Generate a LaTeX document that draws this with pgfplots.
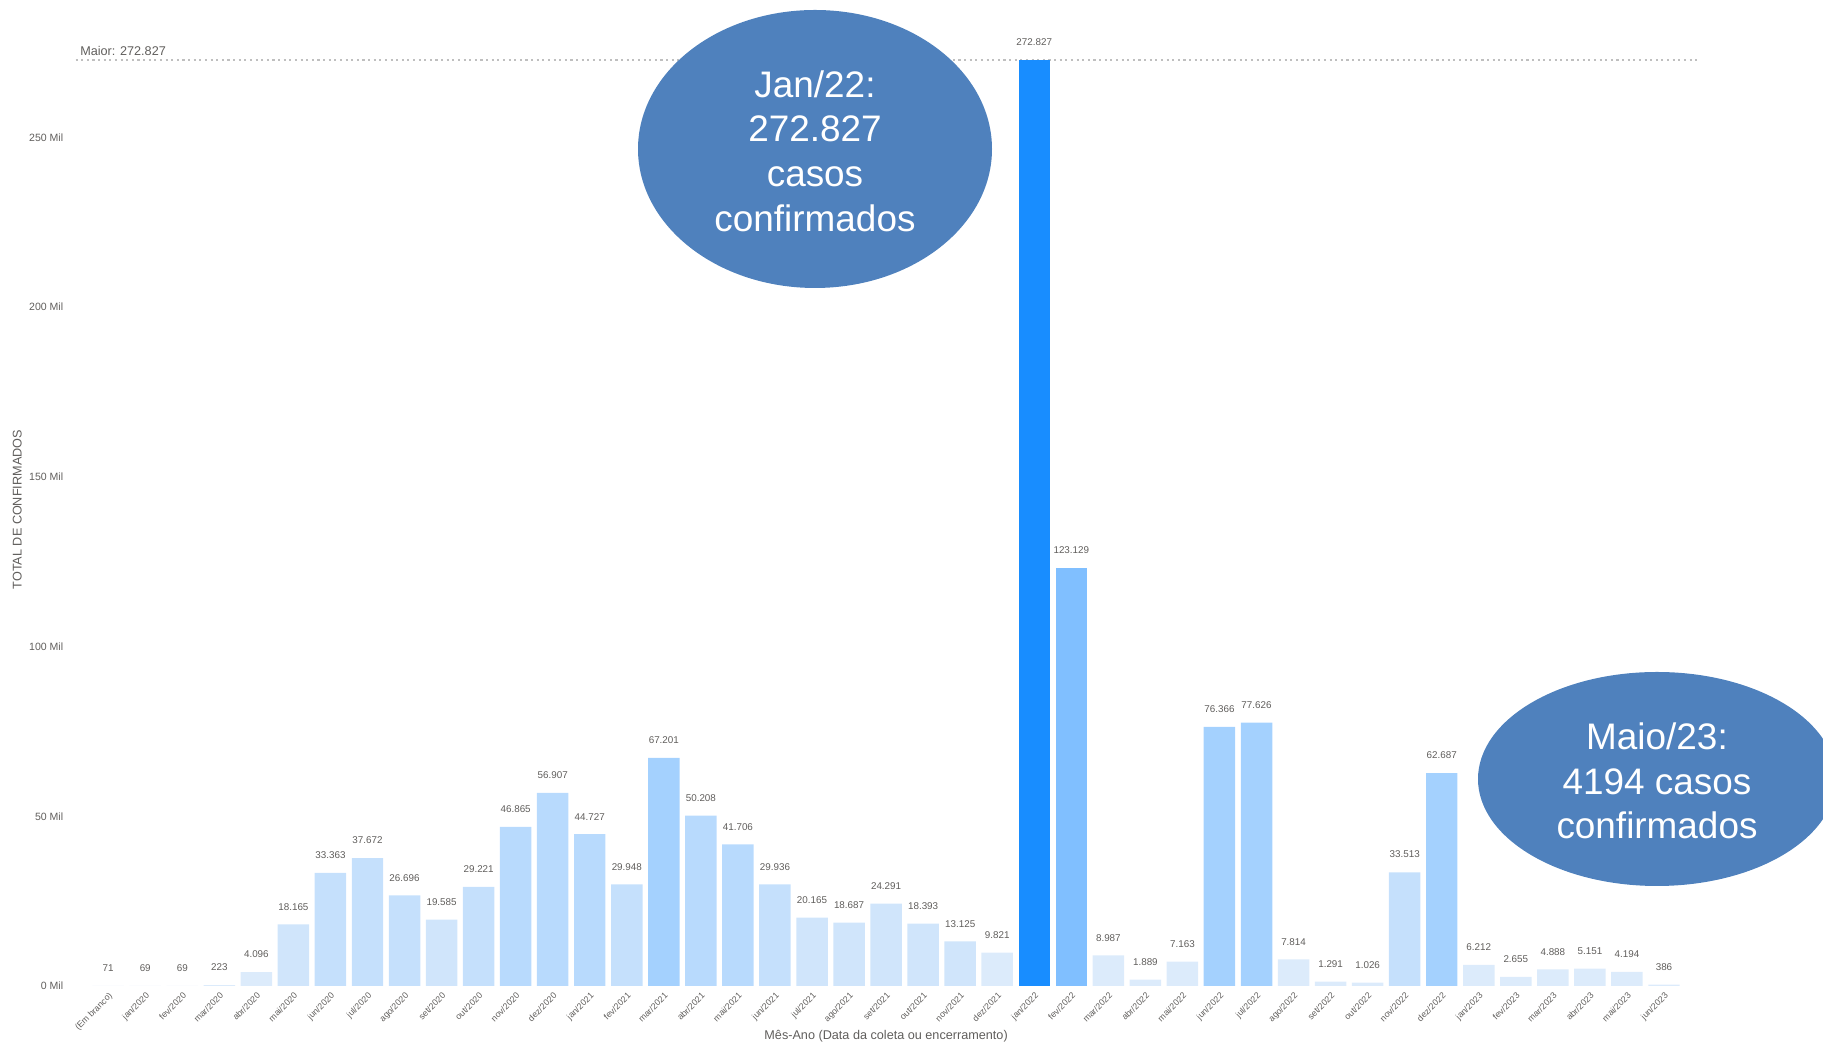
\documentclass[border=0pt]{standalone}
\usepackage{pgfplots}
\pgfplotsset{compat=1.18}
\usepackage{fontspec}
\setmainfont{Liberation Sans}

\definecolor{txt}{HTML}{605E5C}
\definecolor{bubble}{RGB}{79,129,189}
\definecolor{b1}{RGB}{220,235,251}
\definecolor{b2}{RGB}{208,229,251}
\definecolor{b3}{RGB}{197,224,252}
\definecolor{b4}{RGB}{184,218,253}
\definecolor{b5}{RGB}{164,209,254}
\definecolor{b6}{RGB}{128,191,255}
\definecolor{b7}{RGB}{24,141,255}

\pgfplotsset{
  vals/.style={fill=#1, draw=none, bar shift=0pt, nodes near coords,
    every node near coord/.append style={font=\fontsize{2.8}{3.3}\selectfont, text=txt, yshift=0.5pt}},
}

\begin{document}
\begin{tikzpicture}
\begin{axis}[
  at={(7.56mm,5.9mm)}, anchor=south west,
  scale only axis, width=162.1mm, height=93.4mm,
  ybar, bar width=0.85,
  xmin=-0.88, xmax=42.88, ymin=0, ymax=275200,
  enlargelimits=false, clip=false,
  scaled y ticks=false,
  axis line style={draw=none},
  major tick length=0pt,
  xtick={0,...,42},
  xticklabels={{(Em branco)},jan/2020,fev/2020,mar/2020,abr/2020,mai/2020,jun/2020,jul/2020,ago/2020,set/2020,out/2020,nov/2020,dez/2020,
    jan/2021,fev/2021,mar/2021,abr/2021,mai/2021,jun/2021,jul/2021,ago/2021,set/2021,out/2021,nov/2021,dez/2021,
    jan/2022,fev/2022,mar/2022,abr/2022,mai/2022,jun/2022,jul/2022,ago/2022,set/2022,out/2022,nov/2022,dez/2022,
    jan/2023,fev/2023,mar/2023,abr/2023,mai/2023,jun/2023},
  ytick={0,50000,100000,150000,200000,250000},
  yticklabels={0 Mil,50 Mil,100 Mil,150 Mil,200 Mil,250 Mil},
  ticklabel style={font=\fontsize{3}{3.5}\selectfont, text=txt},
  xticklabel style={rotate=45, anchor=north east, font=\fontsize{2.5}{3}\selectfont, inner sep=1pt},
  xlabel={Mês-Ano (Data da coleta ou encerramento)},
  ylabel={TOTAL DE CONFIRMADOS},
  label style={font=\fontsize{3.6}{4.2}\selectfont, text=txt},
  xlabel style={at={(axis description cs:0.5,-0.054)}, anchor=center},
  ylabel style={at={(axis description cs:-0.036,0.51)}, anchor=center},
  /pgf/number format/assume math mode=true,
  /pgf/number format/fixed,
  /pgf/number format/precision=0,
  /pgf/number format/1000 sep={.},
]

% max line
\addplot[sharp plot, forget plot, gray!50, densely dotted, line width=0.6pt]
  coordinates {(-0.88,272827) (42.88,272827)};
\node[anchor=south west, font=\fontsize{3.6}{4.2}\selectfont, text=txt, inner sep=0.5pt]
  at (axis cs:-0.82,273300) {Maior: 272.827};

% < 12 mil
\addplot[vals=b1] coordinates {
  (0,71) (1,69) (2,69) (3,223) (4,4096) (24,9821) (27,8987) (28,1889)
  (29,7163) (32,7814) (33,1291) (34,1026) (37,6212) (38,2655) (39,4888)
  (40,5151) (41,4194) (42,386)
};
% 12 - 25 mil
\addplot[vals=b2] coordinates {
  (5,18165) (9,19585) (19,20165) (20,18687) (21,24291) (22,18393) (23,13125)
};
% 25 - 40 mil
\addplot[vals=b3] coordinates {
  (6,33363) (7,37672) (8,26696) (10,29221) (14,29948) (18,29936) (35,33513)
};
% 40 - 60 mil
\addplot[vals=b4] coordinates {
  (11,46865) (12,56907) (13,44727) (16,50208) (17,41706)
};
% 60 - 80 mil
\addplot[vals=b5] coordinates {
  (15,67201) (30,76366) (31,77626) (36,62687)
};
\addplot[vals=b6] coordinates {(26,123129)};
\addplot[vals=b7] coordinates {(25,272827)};
\end{axis}

\begin{scope}
  \clip (0,0) rectangle (182.3mm,104.5mm);
  \fill[bubble] (81.5mm,89.6mm) ellipse [x radius=17.7mm, y radius=13.9mm];
  \node[text=white, align=center, font=\fontsize{10.5}{12.7}\selectfont]
    at (81.5mm,89.4mm) {Jan/22:\\272.827\\casos\\confirmados};
  \fill[bubble] (165.7mm,26.6mm) ellipse [x radius=17.9mm, y radius=10.7mm];
  \node[text=white, align=center, font=\fontsize{10.5}{12.7}\selectfont]
    at (165.7mm,26.4mm) {Maio/23:\\4194 casos\\confirmados};
\end{scope}
\pgfresetboundingbox
\path[use as bounding box] (0,0) rectangle (182.3mm,104.5mm);
\end{tikzpicture}
\end{document}
